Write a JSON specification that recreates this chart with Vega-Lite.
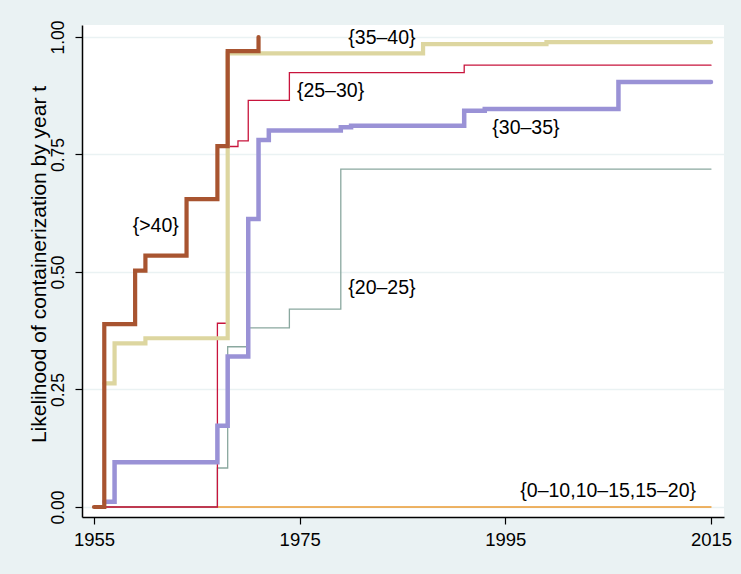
{
  "$schema": "https://vega.github.io/schema/vega-lite/v6.json",
  "width": 642,
  "height": 492,
  "autosize": {"type": "none"},
  "padding": {"left": 82, "top": 25, "right": 17, "bottom": 57},
  "background": "#EAF2F3",
  "config": {
    "view": {"fill": "white", "stroke": null},
    "font": "Liberation Sans"
  },
  "datasets": {
    "lines": [
      {"series": "0-20", "year": 1955, "value": 0},
      {"series": "0-20", "year": 2015, "value": 0},
      {"series": "20-25", "year": 1955, "value": 0},
      {"series": "20-25", "year": 1967, "value": 0.083},
      {"series": "20-25", "year": 1968, "value": 0.341},
      {"series": "20-25", "year": 1970, "value": 0.381},
      {"series": "20-25", "year": 1974, "value": 0.421},
      {"series": "20-25", "year": 1979, "value": 0.719},
      {"series": "20-25", "year": 2015, "value": 0.719},
      {"series": "25-30", "year": 1955, "value": 0},
      {"series": "25-30", "year": 1967, "value": 0.391},
      {"series": "25-30", "year": 1968, "value": 0.767},
      {"series": "25-30", "year": 1969, "value": 0.779},
      {"series": "25-30", "year": 1970, "value": 0.865},
      {"series": "25-30", "year": 1974, "value": 0.924},
      {"series": "25-30", "year": 1991, "value": 0.940},
      {"series": "25-30", "year": 2015, "value": 0.940},
      {"series": "30-35", "year": 1956, "value": 0.011},
      {"series": "30-35", "year": 1957, "value": 0.095},
      {"series": "30-35", "year": 1967, "value": 0.173},
      {"series": "30-35", "year": 1968, "value": 0.320},
      {"series": "30-35", "year": 1970, "value": 0.613},
      {"series": "30-35", "year": 1971, "value": 0.781},
      {"series": "30-35", "year": 1972, "value": 0.801},
      {"series": "30-35", "year": 1979, "value": 0.808},
      {"series": "30-35", "year": 1980, "value": 0.811},
      {"series": "30-35", "year": 1991, "value": 0.843},
      {"series": "30-35", "year": 1993, "value": 0.847},
      {"series": "30-35", "year": 2006, "value": 0.904},
      {"series": "30-35", "year": 2015, "value": 0.904},
      {"series": "35-40", "year": 1956, "value": 0.263},
      {"series": "35-40", "year": 1957, "value": 0.348},
      {"series": "35-40", "year": 1960, "value": 0.359},
      {"series": "35-40", "year": 1968, "value": 0.965},
      {"series": "35-40", "year": 1987, "value": 0.985},
      {"series": "35-40", "year": 1999, "value": 0.989},
      {"series": "35-40", "year": 2015, "value": 0.989},
      {"series": ">40", "year": 1955, "value": 0},
      {"series": ">40", "year": 1956, "value": 0.389},
      {"series": ">40", "year": 1959, "value": 0.503},
      {"series": ">40", "year": 1960, "value": 0.535},
      {"series": ">40", "year": 1964, "value": 0.655},
      {"series": ">40", "year": 1967, "value": 0.768},
      {"series": ">40", "year": 1968, "value": 0.970},
      {"series": ">40", "year": 1971, "value": 1.0}
    ],
    "labels": [
      {"label": "{>40}", "year": 1961, "value": 0.598},
      {"label": "{35–40}", "year": 1983, "value": 0.998},
      {"label": "{25–30}", "year": 1978, "value": 0.886},
      {"label": "{30–35}", "year": 1997, "value": 0.807},
      {"label": "{20–25}", "year": 1983, "value": 0.467},
      {"label": "{0–10,10–15,15–20}", "year": 2005, "value": 0.035}
    ]
  },
  "encoding": {
    "x": {
      "field": "year", "type": "quantitative",
      "scale": {"domain": [1953.833, 2016.264], "nice": false, "zero": false},
      "axis": {
        "values": [1955, 1975, 1995, 2015], "format": "d", "title": null, "grid": false,
        "domainColor": "#000000", "domainWidth": 1.5, "tickColor": "#000000", "tickWidth": 1.2, "tickSize": 7,
        "labelFont": "Liberation Sans", "labelFontSize": 18.5, "labelColor": "#000000",
        "labelBaseline": "alphabetic", "labelPadding": 21.5, "labelFlush": false
      }
    },
    "y": {
      "field": "value", "type": "quantitative",
      "scale": {"domain": [-0.02128, 1.02553], "nice": false, "zero": false},
      "axis": {
        "values": [0, 0.25, 0.5, 0.75, 1], "format": ".2f",
        "title": "Likelihood of containerization by year t",
        "titleFont": "Liberation Sans", "titleFontSize": 21, "titleFontWeight": "normal", "titleColor": "#000000",
        "titleBaseline": "alphabetic", "titleX": -37, "titleY": 239, "titleAngle": 270,
        "grid": true, "gridColor": "#EAF2F3", "gridWidth": 1.5,
        "domainColor": "#000000", "domainWidth": 1.5, "tickColor": "#000000", "tickWidth": 1.2, "tickSize": 7,
        "labelFont": "Liberation Sans", "labelFontSize": 17.5, "labelColor": "#000000",
        "labelAngle": 270, "labelAlign": "center", "labelBaseline": "alphabetic", "labelPadding": 11.7, "labelFlush": false
      }
    }
  },
  "layer": [
    {
      "data": {"name": "lines"},
      "transform": [{"filter": "datum.series === '0-20'"}],
      "mark": {"type": "line", "interpolate": "step-after", "color": "#EB9B32", "strokeWidth": 1.3, "strokeCap": "round"}
    },
    {
      "data": {"name": "lines"},
      "transform": [{"filter": "datum.series === '20-25'"}],
      "mark": {"type": "line", "interpolate": "step-after", "color": "#8AA89F", "strokeWidth": 1.3, "strokeCap": "round"}
    },
    {
      "data": {"name": "lines"},
      "transform": [{"filter": "datum.series === '25-30'"}],
      "mark": {"type": "line", "interpolate": "step-after", "color": "#C8143C", "strokeWidth": 1.3, "strokeCap": "round"}
    },
    {
      "data": {"name": "lines"},
      "transform": [{"filter": "datum.series === '30-35'"}],
      "mark": {"type": "line", "interpolate": "step-after", "color": "#9A92D6", "strokeWidth": 4.5, "strokeCap": "round"}
    },
    {
      "data": {"name": "lines"},
      "transform": [{"filter": "datum.series === '35-40'"}],
      "mark": {"type": "line", "interpolate": "step-after", "color": "#DDD6A0", "strokeWidth": 4.2, "strokeCap": "round"}
    },
    {
      "data": {"name": "lines"},
      "transform": [{"filter": "datum.series === '>40'"}],
      "mark": {"type": "line", "interpolate": "step-after", "color": "#A85430", "strokeWidth": 4.2, "strokeCap": "round"}
    },
    {
      "data": {"name": "labels"},
      "mark": {"type": "text", "align": "center", "baseline": "middle", "font": "Liberation Sans", "fontSize": 19.5, "color": "#000000"},
      "encoding": {"text": {"field": "label"}}
    }
  ]
}
